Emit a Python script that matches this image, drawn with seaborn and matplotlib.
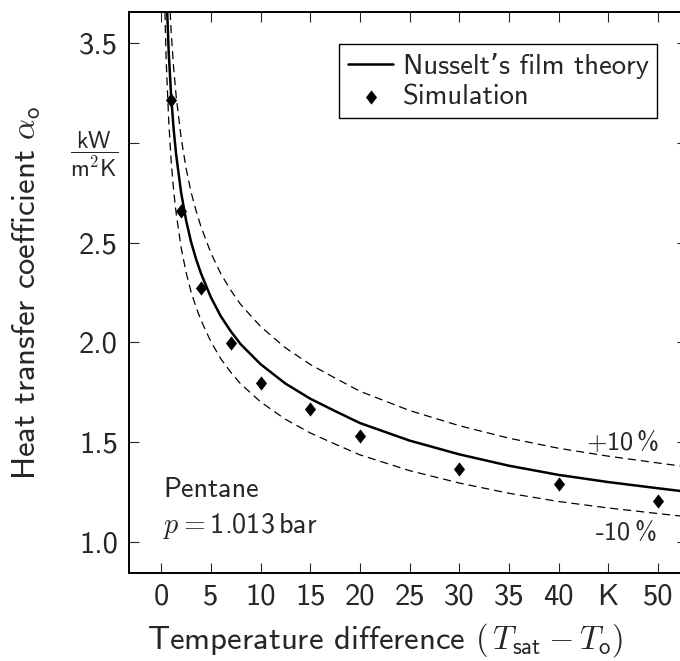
import numpy as np
import pandas as pd
import matplotlib
matplotlib.use("Agg")
import matplotlib.pyplot as plt
import seaborn as sns

# ---- data ----
theory_dT = [0.3, 0.4, 0.5, 0.75, 1, 1.25, 1.5, 2, 2.5, 3, 3.5, 4, 5, 6, 7, 8,
             10, 12.5, 15, 17.5, 20, 25, 30, 35, 40, 45, 50, 53]
theory_alpha = [4.25, 3.985, 3.785, 3.454, 3.23, 3.066, 2.94, 2.75, 2.611,
                2.503, 2.418, 2.345, 2.225, 2.13, 2.055, 1.99, 1.89, 1.793,
                1.717, 1.655, 1.595, 1.507, 1.438, 1.381, 1.335, 1.299,
                1.268, 1.25]
sim_dT = [1, 2, 4, 7, 10, 15, 20, 30, 40, 50]
sim_alpha = [3.215, 2.66, 2.271, 1.998, 1.797, 1.664, 1.53, 1.363, 1.289, 1.204]
band = 0.10  # +/-10 % deviation lines

x_ticks = [0, 5, 10, 15, 20, 25, 30, 35, 40, 45, 50]
x_ticklabels = ["0", "5", "10", "15", "20", "25", "30", "35", "40", "K", "50"]
y_ticks = [1.0, 1.5, 2.0, 2.5, 3.0, 3.5]
y_ticklabels = ["1.0", "1.5", "2.0", "2.5",
                r"$\dfrac{\mathsf{kW}}{\mathsf{m^2K}}$", "3.5"]

theory = pd.DataFrame({"dT": theory_dT, "alpha": theory_alpha})
theory["upper"] = theory["alpha"] * (1 + band)
theory["lower"] = theory["alpha"] * (1 - band)
sim = pd.DataFrame({"dT": sim_dT, "alpha": sim_alpha})

# ---- style ----
sns.set_style("ticks")
plt.rcParams["font.family"] = ["cmss10", "DejaVu Sans"]
plt.rcParams["mathtext.fontset"] = "cm"
plt.rcParams["axes.unicode_minus"] = False
plt.rcParams["lines.scale_dashes"] = False

FS_TICK = 22
FS_LAB = 23.6
FS_LEG = 20.6
FS_TXT = 20.3
FS_PCT = 19

fig = plt.figure(figsize=(6.8, 6.61), dpi=100)
ax = fig.add_axes([0.1897, 0.1336, 0.8206, 0.8482])

dash = (0, (5.8, 3.6))
sns.lineplot(data=theory, x="dT", y="upper", ax=ax, color="black", lw=0.9,
             linestyle=dash, sort=False, estimator=None, legend=False)
sns.lineplot(data=theory, x="dT", y="lower", ax=ax, color="black", lw=0.9,
             linestyle=dash, sort=False, estimator=None, legend=False)
sns.lineplot(data=theory, x="dT", y="alpha", ax=ax, color="black", lw=1.8,
             sort=False, estimator=None, label="Nusselt\u2019s film theory")
diamond = [(-0.39, 0.0), (0.0, 0.5), (0.39, 0.0), (0.0, -0.5), (-0.39, 0.0)]
sns.scatterplot(data=sim, x="dT", y="alpha", ax=ax, color="black",
                marker=diamond, s=105, linewidth=0, label="Simulation", zorder=5)

ax.set_xlim(-3.25, 52.94)
ax.set_ylim(0.8445, 3.656)
ax.set_xticks(x_ticks)
ax.set_xticklabels(x_ticklabels, fontsize=FS_TICK)
ax.set_yticks(y_ticks)
ax.set_yticklabels(y_ticklabels, fontsize=FS_TICK)
ax.get_yticklabels()[4].set_fontsize(17)

ax.tick_params(direction="in", length=7.2, width=0.8, top=True, right=True,
               labeltop=False, labelright=False, pad=8)
for sp in ax.spines.values():
    sp.set_linewidth(1.4)
    sp.set_color("black")

ax.set_xlabel(r"Temperature difference $(\,T_{\mathsf{sat}} - T_{\mathsf{o}})$",
              fontsize=FS_LAB)
ax.set_ylabel(r"Heat transfer coefficient $\alpha_{\mathsf{o}}$", fontsize=FS_LAB)
ax.xaxis.set_label_coords((385 - 129) / 558, -0.086)
ax.yaxis.set_label_coords(-0.154, 0.5)

ax.text(0.2, 1.226, "Pentane", fontsize=FS_TXT)
ax.text(0.2, 1.045, r"$p=$1.013$\,$bar", fontsize=FS_TXT)
ax.text(50.15, 1.46, r"+10$\,$%", fontsize=FS_PCT, ha="right")
ax.text(49.9, 1.0085, r"-10$\,$%", fontsize=FS_PCT, ha="right")

handles, labels = ax.get_legend_handles_labels()
leg = ax.legend(handles, labels, loc="upper right",
                bbox_to_anchor=(0.9468, 0.943), borderaxespad=0,
                fontsize=FS_LEG, frameon=True, fancybox=False, framealpha=1,
                edgecolor="black", handlelength=1.6, handletextpad=0.33,
                borderpad=0.3, labelspacing=0.2)
leg.get_frame().set_linewidth(1.0)

fig.savefig("out.png", dpi=100)
